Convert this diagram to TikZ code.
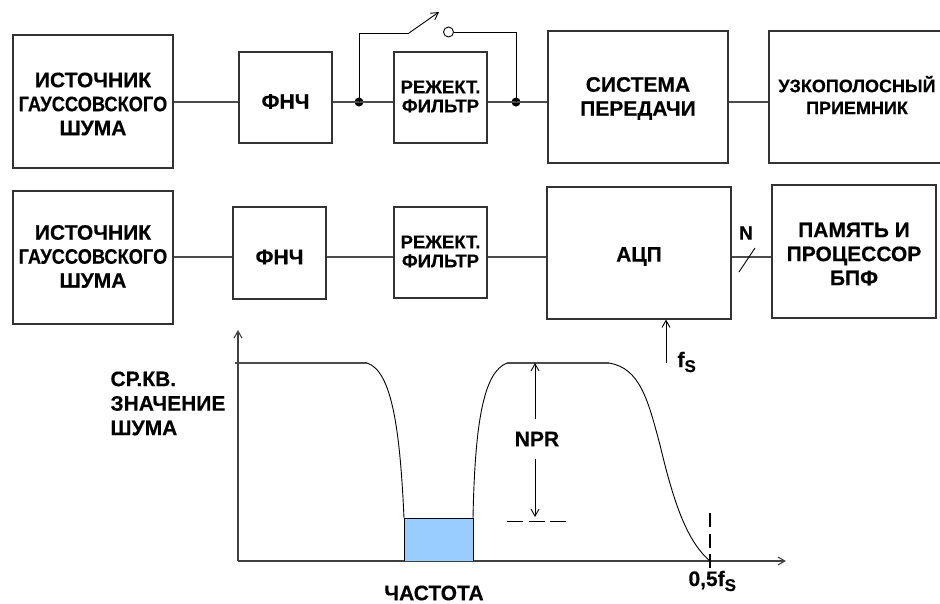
\documentclass[tikz,border=0pt]{standalone}
\usepackage{fontspec}
\setmainfont{Liberation Sans}[BoldFeatures={FakeBold=0.4}]
\usetikzlibrary{arrows.meta}
\definecolor{boxblue}{HTML}{99CCFF}
\begin{document}
\begin{tikzpicture}[x=1pt,y=-1pt,
  line width=1pt,
  bigfont/.style={font=\bfseries\fontsize{21}{24}\selectfont},
  midfont/.style={font=\bfseries\fontsize{18.5}{19}\selectfont},
  blk/.style={draw=black!80, line width=1.1pt, inner sep=0pt},
  wire/.style={draw=black!70, line width=1.1pt},
  thin/.style={draw=black, line width=0.9pt},
  dotn/.style={circle, fill=black, inner sep=0pt, minimum size=9pt},
  tip/.style={-{Straight Barb[length=7pt,width=8pt]}},
  lbl/.style={bigfont, inner sep=0pt, align=center}
]
\useasboundingbox (0,0) rectangle (940,603);

% ---------- top row ----------
\node[blk, minimum width=160, minimum height=133] (src1) at (93,101.5) {};
\node[lbl] (src1t) at ([yshift=-2.5pt]src1.center) {ИСТОЧНИК\\\scalebox{0.87}[1]{ГАУССОВСКОГО}\\ШУМА};
\node[blk, minimum width=93, minimum height=91] (lpf1) at (285.5,97.5) {};
\node[lbl] (lpf1t) at ([yshift=-4pt]lpf1.center) {ФНЧ};
\node[blk, minimum width=93, minimum height=91] (notch1) at (440.5,97.5) {};
\node[lbl, midfont] (notch1t) at ([yshift=1pt]notch1.center) {РЕЖЕКТ.\\ФИЛЬТР};
\node[blk, minimum width=180, minimum height=132] (sys) at (638,97) {};
\node[lbl] (syst) at ([yshift=-1.5pt]sys.center) {СИСТЕМА\\ПЕРЕДАЧИ};
\node[blk, minimum width=176, minimum height=132] (rx) at (857,97) {};
\node[lbl, font=\bfseries\fontsize{18}{22}\selectfont] (rxt) at ([yshift=2pt]rx.center) {УЗКОПОЛОСНЫЙ\\ПРИЕМНИК};

\coordinate (r1) at (0,102);
\node[dotn] (dl) at (359,102) {};
\node[dotn] (dr) at (516,102) {};
\coordinate (swa) at (359,33);
\coordinate (swb) at (409,33);
\coordinate (swt) at (439,12);
\node[circle, draw=black, line width=0.9pt, minimum size=10pt, inner sep=0pt] (swc) at (448.5,32) {};
\coordinate (swr) at (516,32);

\draw[wire] (src1.east|-r1) -- (lpf1.west|-r1);
\draw[wire] (lpf1.east|-r1) -- (dl.center) -- (notch1.west|-r1);
\draw[wire] (notch1.east|-r1) -- (dr.center) -- (sys.west|-r1);
\draw[wire] (sys.east|-r1) -- (rx.west|-r1);
\draw[thin] (dl.center) -- (swa) -- (swb);
\draw[thin, tip] (swb) -- (swt);
\draw[thin] (swc.east) -- (swr) -- (dr.center);

% ---------- second row ----------
\node[blk, minimum width=160, minimum height=133] (src2) at (93,257.5) {};
\node[lbl] (src2t) at ([yshift=1pt]src2.center) {ИСТОЧНИК\\\scalebox{0.87}[1]{ГАУССОВСКОГО}\\ШУМА};
\node[blk, minimum width=93, minimum height=92] (lpf2) at (279.5,253) {};
\node[lbl] (lpf2t) at ([yshift=-4pt]lpf2.center) {ФНЧ};
\node[blk, minimum width=93, minimum height=91] (notch2) at (440.5,252.5) {};
\node[lbl, midfont] (notch2t) at ([yshift=1pt]notch2.center) {РЕЖЕКТ.\\ФИЛЬТР};
\node[blk, minimum width=184, minimum height=132] (adc) at (639,253) {};
\node[lbl] (adct) at ([yshift=-3.5pt]adc.center) {АЦП};
\node[blk, minimum width=164, minimum height=133] (mem) at (854,251.5) {};
\node[lbl] (memt) at ([yshift=-2.5pt]mem.center) {ПАМЯТЬ И\\ПРОЦЕССОР\\БПФ};

\coordinate (r2) at (0,257);
\draw[wire] (src2.east|-r2) -- (lpf2.west|-r2);
\draw[wire] (lpf2.east|-r2) -- (notch2.west|-r2);
\draw[wire] (notch2.east|-r2) -- (adc.west|-r2);
\draw[wire] (adc.east|-r2) -- (mem.west|-r2);
\coordinate (nsa) at (739,272);
\coordinate (nsb) at (755,248);
\draw[thin] (nsa) -- (nsb);
\node[lbl, font=\bfseries\fontsize{19}{19}\selectfont] (nlab) at (746,233) {N};

\coordinate (fsa) at (666,363);
\draw[thin, tip] (fsa) -- (adc.south-|fsa);
\node[lbl, anchor=base west] (fs) at (677,367) {f\raisebox{-5pt}{\fontsize{17}{17}\selectfont S}};

% ---------- graph ----------
\coordinate (o) at (238,561);
\coordinate (ytop) at (238,330);
\coordinate (xend) at (786,561);
\draw[wire, tip, draw=black!75] (o) -- (ytop);
\draw[wire, tip, draw=black!75] (o) -- (xend);

\fill[boxblue] (404,518) rectangle (473,561);
\draw[thin] (404,561) -- (404,518) -- (473,518) -- (473,561);

\draw[wire] (235,363) -- (367,363);
\draw[thin] (367,363) .. controls (392,371) and (400,430) .. (404,518);
\draw[thin] (473,518) .. controls (475,420) and (484,372) .. (507,363);
\draw[wire] (507,363) -- (609,363);
\draw[thin] (609,363) .. controls (640,368) and (648,400) .. (660,445)
  .. controls (672,495) and (685,540) .. (710,561);

\draw[black, line width=2pt, dash pattern=on 14pt off 6.5pt] (710,513) -- (710,573);
\draw[black, line width=1pt, dash pattern=on 16pt off 5.5pt] (507,521) -- (566,521);

\node[lbl, inner ysep=12pt] (npr) at (537,439) {NPR};
\coordinate (npt) at (535,363);
\coordinate (npb) at (535,517);
\draw[thin, tip] (npr.north-|npt) -- (npt);
\draw[thin, tip] (npr.south-|npb) -- (npb);

\node[lbl, anchor=north west, align=left, font=\bfseries\fontsize{21}{24.5}\selectfont] (ylab) at (110,371) {СР.КВ.\\ЗНАЧЕНИЕ\\ШУМА};
\node[lbl] (xlab) at (434,593) {ЧАСТОТА};
\node[lbl, anchor=base west] (half) at (688,586) {0,5f\raisebox{-5pt}{\fontsize{17}{17}\selectfont S}};
\end{tikzpicture}
\end{document}
